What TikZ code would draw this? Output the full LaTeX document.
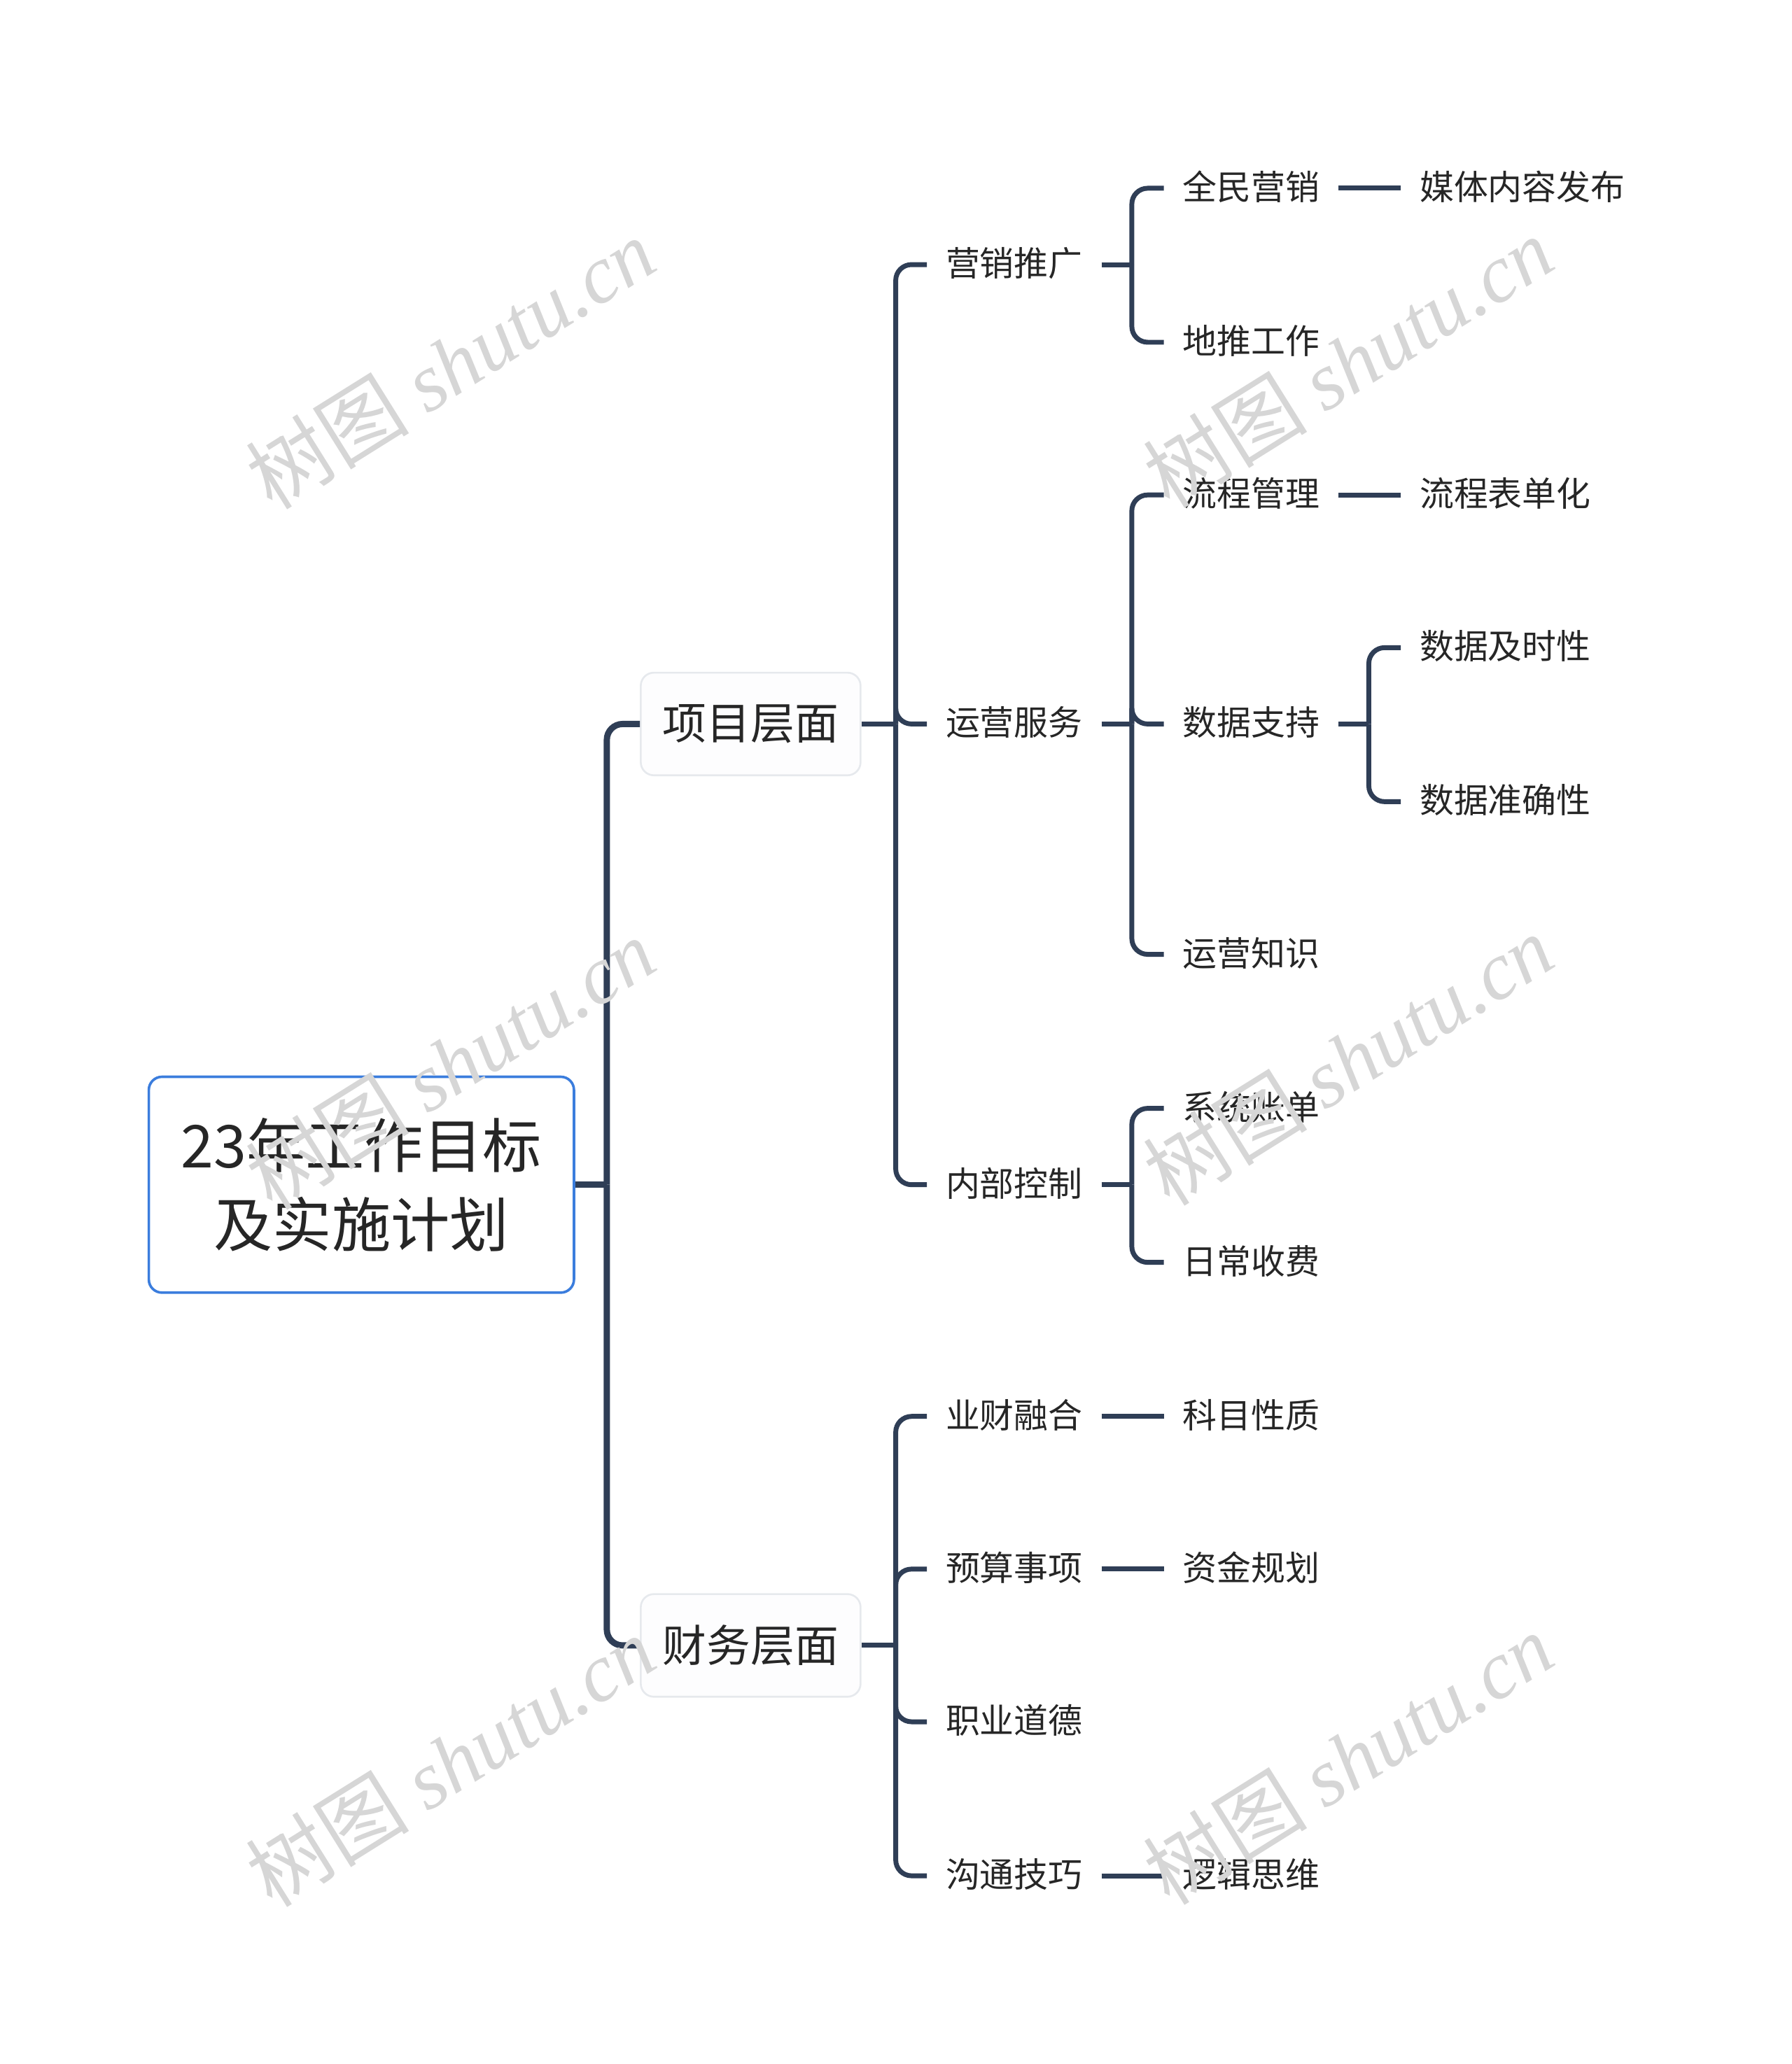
\documentclass[tikz,border=0pt]{standalone}
\usepackage{fontspec}
\newfontfamily\cjk{Noto Sans CJK SC}
\newfontfamily\wmserif{Liberation Serif}
\usepackage{xcolor}
\usepackage{tikz}
\usetikzlibrary{positioning, calc}
\definecolor{mmLine}{HTML}{2F3E56}
\definecolor{mmRoot}{HTML}{3B7DDD}
\definecolor{mmBoxLine}{HTML}{E6E9ED}
\definecolor{mmBoxFill}{HTML}{FDFDFE}
\definecolor{mmText}{HTML}{262626}
\definecolor{mmMark}{HTML}{D6D6D6}
\tikzset{
  mm-root/.style={
    rectangle, rounded corners=0.2cm, draw=mmRoot, fill=white,
    line width=1.1pt, minimum width=6.46cm, minimum height=3.28cm,
    align=center, text=mmText,
    font=\cjk\fontsize{25.5}{34}\selectfont
  },
  mm-main/.style={
    rectangle, rounded corners=0.2cm, draw=mmBoxLine, fill=mmBoxFill,
    line width=0.8pt, minimum width=3.34cm, minimum height=1.56cm,
    anchor=west, text=mmText, font=\cjk\fontsize{19}{22}\selectfont
  },
  mm-leaf/.style={
    inner xsep=0.28cm, inner ysep=0pt, anchor=west, text=mmText,
    text height=1em, text depth=0pt,
    font=\cjk\fontsize{14.8}{18}\selectfont
  },
  mm-link/.style={draw=mmLine, line width=2.1pt, rounded corners=0.24cm},
  mm-link-root/.style={mm-link, line width=2.7pt},
  mm-mark/.style={
    text=mmMark, rotate=32, inner sep=0pt,
    font=\fontsize{35.5}{36}\selectfont
  },
}

\begin{document}
\begin{tikzpicture}[x=0.02cm, y=-0.02cm]
  \useasboundingbox (0,0) rectangle (1361,1568);

  % root and the two main topics
  \node[mm-root]          (root) at (274.5,900) {23年工作目标\\及实施计划};
  \node[mm-main]          (proj) at (486,550)   {项目层面};
  \node[mm-main]          (fin)  at (486,1250)  {财务层面};

  % project side
  \node[mm-leaf] (mkt)  at (704,201)  {营销推广};
  \node[mm-leaf] (ops)  at (704,550)  {运营服务};
  \node[mm-leaf] (ctrl) at (704,900)  {内部控制};

  \node[mm-leaf] (allmkt)  at (884,143) {全民营销};
  \node[mm-leaf] (ground)  at (884,260) {地推工作};
  \node[mm-leaf] (flow)    at (884,376) {流程管理};
  \node[mm-leaf] (data)    at (884,550) {数据支持};
  \node[mm-leaf] (know)    at (884,725) {运营知识};
  \node[mm-leaf] (bill)    at (884,842) {系统账单};
  \node[mm-leaf] (fee)     at (884,959) {日常收费};

  \node[mm-leaf] (media)   at (1064,143) {媒体内容发布};
  \node[mm-leaf] (form)    at (1064,376) {流程表单化};
  \node[mm-leaf] (timely)  at (1064,492) {数据及时性};
  \node[mm-leaf] (exact)   at (1064,609) {数据准确性};

  % finance side
  \node[mm-leaf] (merge)  at (704,1076) {业财融合};
  \node[mm-leaf] (budget) at (704,1192) {预算事项};
  \node[mm-leaf] (ethic)  at (704,1308) {职业道德};
  \node[mm-leaf] (talk)   at (704,1425) {沟通技巧};

  \node[mm-leaf] (subj)   at (884,1076) {科目性质};
  \node[mm-leaf] (fund)   at (884,1192) {资金规划};
  \node[mm-leaf] (logic)  at (884,1425) {逻辑思维};

  % connectors
  \draw[mm-link-root] (root.east) -- ++(24,0) coordinate (root-j);
  \foreach \c in {proj,fin}
    \draw[mm-link-root] (root-j) |- (\c.west);

  \draw[mm-link] (proj.east) -- ++(26,0) coordinate (proj-j);
  \foreach \c in {mkt,ops,ctrl}
    \draw[mm-link] (proj-j) |- (\c.west);
  \draw[mm-link] (fin.east) -- ++(26,0) coordinate (fin-j);
  \foreach \c in {merge,budget,ethic,talk}
    \draw[mm-link] (fin-j) |- (\c.west);

  \draw[mm-link] (mkt.east) -- ++(23,0) coordinate (mkt-j);
  \foreach \c in {allmkt,ground}
    \draw[mm-link] (mkt-j) |- (\c.west);
  \draw[mm-link] (ops.east) -- ++(23,0) coordinate (ops-j);
  \foreach \c in {flow,data,know}
    \draw[mm-link] (ops-j) |- (\c.west);
  \draw[mm-link] (ctrl.east) -- ++(23,0) coordinate (ctrl-j);
  \foreach \c in {bill,fee}
    \draw[mm-link] (ctrl-j) |- (\c.west);
  \draw[mm-link] (data.east) -- ++(23,0) coordinate (data-j);
  \foreach \c in {timely,exact}
    \draw[mm-link] (data-j) |- (\c.west);

  \foreach \a/\b in {allmkt/media, flow/form, merge/subj, budget/fund, talk/logic}
    \draw[mm-link] (\a.east) -- (\b.west);

  % watermarks
  \foreach \wx/\wy [count=\i] in {342/276, 1024/275, 342/808, 1024/805, 342/1338, 1024/1336}
    \node[mm-mark] (mark\i) at (\wx,\wy) {\cjk 树图 \wmserif\itshape shutu.cn};
\end{tikzpicture}
\end{document}
